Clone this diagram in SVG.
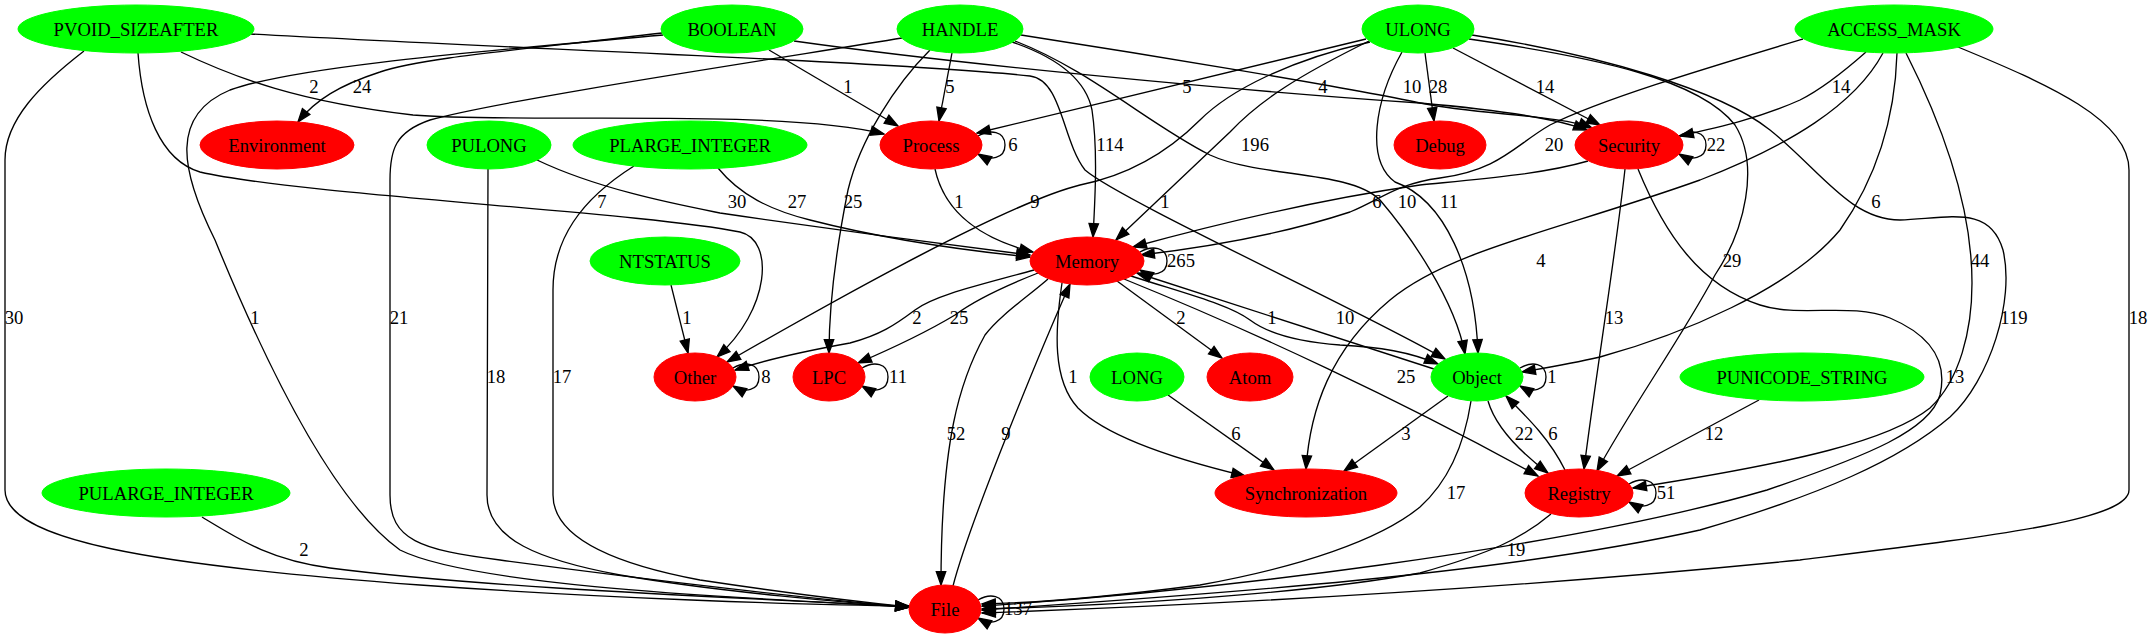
<svg xmlns="http://www.w3.org/2000/svg" width="2153" height="639" viewBox="0 0 2153 639">
<style>
.e{fill:none;stroke:#000;stroke-width:1.33;marker-end:url(#a)}
.t{font-family:"Liberation Serif","Times New Roman",serif;font-size:18.67px;text-anchor:middle;fill:#000}
.g ellipse{fill:#00ff00;stroke:#00ff00}
.r ellipse{fill:#ff0000;stroke:#ff0000}
</style>
<defs>
<marker id="a" viewBox="0 0 13.3 9.4" refX="13.3" refY="4.7" markerWidth="13.3" markerHeight="9.4" orient="auto" markerUnits="userSpaceOnUse" overflow="visible">
<path d="M0,0 L13.3,4.7 L0,9.4 z" fill="#000" stroke="#000" stroke-width="1.33"/>
</marker>
</defs>
<rect width="2153" height="639" fill="#fff"/>
<g id="edges">
<path class="e" d="M181,52 C235,78 300,102 413,115 C520,124 780,108 884,134"/>
<path class="e" d="M138,53 C142,110 160,160 200,172 C300,195 640,212 740,232 C775,240 770,310 717,357"/>
<path class="e" d="M84,51 C40,85 5,120 5,160 L5,490 C5,540 150,565 420,585 C600,598 800,605 909,606"/>
<path class="e" d="M251,34 C500,48 900,62 1030,76 C1062,80 1062,140 1085,170 C1120,200 1360,310 1445,359"/>
<path class="e" d="M662,33 C520,50 420,58 380,72 C340,85 315,100 298,122"/>
<path class="e" d="M769,50 L898,126"/>
<path class="e" d="M794,41 C1000,70 1300,95 1420,103 C1500,110 1555,118 1587,130"/>
<path class="e" d="M663,35 C500,50 300,65 230,90 C170,115 180,170 215,240 C260,350 330,500 400,550 C480,590 800,600 909,607"/>
<path class="e" d="M952,53 L939,121"/>
<path class="e" d="M930,50 C895,85 860,140 848,190 C838,240 829,300 829,353"/>
<path class="e" d="M1012,42 C1050,55 1085,75 1092,110 C1098,150 1095,200 1093,237"/>
<path class="e" d="M902,38 C800,55 500,100 430,120 C395,132 390,150 390,180 L390,495 C390,540 420,550 500,560 C650,580 820,600 909,607"/>
<path class="e" d="M1021,35 C1150,55 1350,88 1420,103 C1480,115 1560,115 1592,128"/>
<path class="e" d="M1015,41 C1090,70 1150,125 1210,155 C1260,178 1350,170 1380,200 C1410,235 1455,300 1465,354"/>
<path class="e" d="M1366,39 L977,133"/>
<path class="e" d="M1425,53 L1434,121"/>
<path class="e" d="M1453,48 L1600,125"/>
<path class="e" d="M1369,41 C1300,75 1260,100 1230,132 L1116,240"/>
<path class="e" d="M1370,42 C1290,60 1230,90 1200,120 C1170,150 1130,175 1080,185 C1000,205 800,320 727,362"/>
<path class="e" d="M1402,52 C1375,100 1365,160 1395,182 C1445,200 1475,270 1478,353"/>
<path class="e" d="M1469,39 C1600,58 1700,80 1735,125 C1760,165 1745,230 1715,275 C1680,340 1630,410 1597,471"/>
<path class="e" d="M1472,35 C1600,55 1720,90 1770,130 C1820,170 1850,220 1900,220 C1950,218 1990,205 2003,250 C2015,300 1990,380 1950,417 C1900,460 1820,495 1700,530 C1500,575 1200,595 982,610"/>
<path class="e" d="M1866,52 C1840,75 1820,90 1800,100 C1760,118 1720,127 1680,136"/>
<path class="e" d="M1803,39 C1700,70 1600,100 1550,125 C1515,145 1500,170 1440,178 C1395,184 1380,200 1350,212 C1280,235 1200,248 1141,255"/>
<path class="e" d="M1883,53 C1855,105 1790,145 1700,180 C1560,230 1450,250 1390,300 C1330,350 1310,410 1306,469"/>
<path class="e" d="M1897,53 C1895,120 1875,180 1840,230 C1790,290 1680,335 1600,357 C1570,364 1545,368 1522,372"/>
<path class="e" d="M1906,53 C1945,130 1972,210 1972,283 C1972,330 1960,380 1930,408 C1890,440 1800,462 1633,488"/>
<path class="e" d="M1958,47 C2050,85 2129,120 2129,170 L2129,490 C2129,520 2000,535 1800,560 C1500,590 1200,605 982,613"/>
<path class="e" d="M537,160 C600,190 680,205 720,213 C850,232 950,245 1030,255"/>
<path class="e" d="M488,169 L487,495 C487,540 540,560 620,575 C720,592 850,603 909,607"/>
<path class="e" d="M718,168 C740,195 770,210 810,220 C880,238 960,250 1030,257"/>
<path class="e" d="M634,166 C580,200 553,240 553,290 L553,495 C553,540 620,565 700,580 C800,595 870,603 909,607"/>
<path class="e" d="M935,169 C945,215 985,240 1033,252"/>
<path class="e" d="M1588,161 C1540,175 1470,180 1420,185 C1350,195 1250,215 1133,247"/>
<path class="e" d="M1625,169 C1615,260 1595,380 1584,469"/>
<path class="e" d="M1638,169 C1665,235 1700,285 1760,305 C1800,318 1850,302 1890,318 C1930,335 1948,360 1940,395 C1930,430 1870,455 1767,490 C1560,550 1200,592 982,606"/>
<path class="e" d="M671,285 L688,353"/>
<path class="e" d="M1034,270 C980,285 935,295 915,310 C895,325 880,335 850,343 C800,352 765,360 735,370"/>
<path class="e" d="M1038,273 C1000,288 975,300 955,315 C930,330 900,345 858,363"/>
<path class="e" d="M1117,281 L1222,358"/>
<path class="e" d="M1131,276 C1190,295 1230,305 1250,320 C1270,335 1300,342 1340,345 C1380,347 1410,352 1438,364"/>
<path class="e" d="M1434,369 L1137,273"/>
<path class="e" d="M1124,279 C1250,330 1400,400 1538,476"/>
<path class="e" d="M1062,283 C1055,330 1052,380 1078,408 C1105,435 1170,458 1245,476"/>
<path class="e" d="M1048,279 C1030,295 1000,315 985,335 C960,380 941,440 941,585"/>
<path class="e" d="M953,586 C970,520 1045,340 1070,284"/>
<path class="e" d="M1168,395 L1274,470"/>
<path class="e" d="M1448,396 L1344,471"/>
<path class="e" d="M1488,401 C1495,425 1515,448 1548,473"/>
<path class="e" d="M1471,401 C1465,440 1450,480 1420,507 C1380,540 1300,567 1200,585 C1100,598 1030,603 982,604"/>
<path class="e" d="M1565,470 C1550,440 1530,420 1506,396"/>
<path class="e" d="M1551,514 C1520,540 1490,553 1420,573 C1300,595 1100,606 982,609"/>
<path class="e" d="M1759,400 L1617,476"/>
<path class="e" d="M202,517 C240,540 270,560 330,568 C500,590 800,600 909,607"/>
<path class="e" d="M978,136 C990,129 1005,131 1005,145 C1005,159 990,161 978,154"/>
<path class="e" d="M1679,136 C1691,129 1706,131 1706,145 C1706,159 1691,161 1679,154"/>
<path class="e" d="M1140,252 C1152,245 1167,247 1167,261 C1167,275 1152,277 1140,270"/>
<path class="e" d="M733,368 C745,361 759,363 759,377 C759,391 745,393 733,386"/>
<path class="e" d="M862,368 C874,361 888,363 888,377 C888,391 874,393 862,386"/>
<path class="e" d="M1520,368 C1532,361 1546,363 1546,377 C1546,391 1532,393 1520,386"/>
<path class="e" d="M1629,484 C1641,477 1656,479 1656,493 C1656,507 1641,509 1629,502"/>
<path class="e" d="M978,600 C990,593 1004,595 1004,609 C1004,623 990,625 978,618"/>
<g class="t">
<text x="314" y="93">2</text><text x="362" y="93">24</text><text x="848" y="93">1</text><text x="950" y="93">5</text><text x="1187" y="93">5</text><text x="1323" y="93">4</text><text x="1412" y="93">10</text><text x="1438" y="93">28</text><text x="1545" y="93">14</text><text x="1841" y="93">14</text>
<text x="1013" y="151">6</text><text x="1110" y="151">114</text><text x="1255" y="151">196</text><text x="1554" y="151">20</text><text x="1716" y="151">22</text>
<text x="602" y="208">7</text><text x="737" y="208">30</text><text x="797" y="208">27</text><text x="853" y="208">25</text><text x="959" y="208">1</text><text x="1035" y="208">9</text><text x="1165" y="208">1</text><text x="1377" y="208">6</text><text x="1407" y="208">10</text><text x="1449" y="208">11</text><text x="1876" y="208">6</text>
<text x="1181" y="267">265</text><text x="1541" y="267">4</text><text x="1732" y="267">29</text><text x="1980" y="267">44</text>
<text x="14" y="324">30</text><text x="255" y="324">1</text><text x="399" y="324">21</text><text x="687" y="324">1</text><text x="917" y="324">2</text><text x="959" y="324">25</text><text x="1181" y="324">2</text><text x="1272" y="324">1</text><text x="1345" y="324">10</text><text x="1614" y="324">13</text><text x="2014" y="324">119</text><text x="2138" y="324">18</text>
<text x="496" y="383">18</text><text x="562" y="383">17</text><text x="766" y="383">8</text><text x="898" y="383">11</text><text x="1073" y="383">1</text><text x="1406" y="383">25</text><text x="1552" y="383">1</text><text x="1955" y="383">13</text>
<text x="956" y="440">52</text><text x="1006" y="440">9</text><text x="1236" y="440">6</text><text x="1406" y="440">3</text><text x="1524" y="440">22</text><text x="1553" y="440">6</text><text x="1714" y="440">12</text>
<text x="1456" y="499">17</text><text x="1666" y="499">51</text>
<text x="304" y="556">2</text><text x="1516" y="556">19</text>
<text x="1018" y="615">137</text>
</g>
</g>
<g id="n_PVOID_SIZEAFTER" class="g"><ellipse cx="136" cy="29" rx="118" ry="24"/><text class="t" x="136" y="35.5">PVOID_SIZEAFTER</text></g>
<g id="n_BOOLEAN" class="g"><ellipse cx="732" cy="29" rx="71" ry="24"/><text class="t" x="732" y="35.5">BOOLEAN</text></g>
<g id="n_HANDLE" class="g"><ellipse cx="960" cy="29" rx="63" ry="24"/><text class="t" x="960" y="35.5">HANDLE</text></g>
<g id="n_ULONG" class="g"><ellipse cx="1418" cy="29" rx="56" ry="24"/><text class="t" x="1418" y="35.5">ULONG</text></g>
<g id="n_ACCESS_MASK" class="g"><ellipse cx="1894" cy="29" rx="99" ry="24"/><text class="t" x="1894" y="35.5">ACCESS_MASK</text></g>
<g id="n_Environment" class="r"><ellipse cx="277" cy="145" rx="77" ry="24"/><text class="t" x="277" y="151.5">Environment</text></g>
<g id="n_PULONG" class="g"><ellipse cx="489" cy="145" rx="62" ry="24"/><text class="t" x="489" y="151.5">PULONG</text></g>
<g id="n_PLARGE_INTEGER" class="g"><ellipse cx="690" cy="145" rx="117" ry="24"/><text class="t" x="690" y="151.5">PLARGE_INTEGER</text></g>
<g id="n_Process" class="r"><ellipse cx="931" cy="145" rx="51" ry="24"/><text class="t" x="931" y="151.5">Process</text></g>
<g id="n_Debug" class="r"><ellipse cx="1440" cy="145" rx="46" ry="24"/><text class="t" x="1440" y="151.5">Debug</text></g>
<g id="n_Security" class="r"><ellipse cx="1629" cy="145" rx="54" ry="24"/><text class="t" x="1629" y="151.5">Security</text></g>
<g id="n_NTSTATUS" class="g"><ellipse cx="665" cy="261" rx="75" ry="24"/><text class="t" x="665" y="267.5">NTSTATUS</text></g>
<g id="n_Memory" class="r"><ellipse cx="1087" cy="261" rx="57" ry="24"/><text class="t" x="1087" y="267.5">Memory</text></g>
<g id="n_Other" class="r"><ellipse cx="695" cy="377" rx="41" ry="24"/><text class="t" x="695" y="383.5">Other</text></g>
<g id="n_LPC" class="r"><ellipse cx="829" cy="377" rx="36" ry="24"/><text class="t" x="829" y="383.5">LPC</text></g>
<g id="n_LONG" class="g"><ellipse cx="1137" cy="377" rx="47" ry="24"/><text class="t" x="1137" y="383.5">LONG</text></g>
<g id="n_Atom" class="r"><ellipse cx="1250" cy="377" rx="43" ry="24"/><text class="t" x="1250" y="383.5">Atom</text></g>
<g id="n_Object" class="g"><ellipse cx="1477" cy="377" rx="46" ry="24"/><text class="t" x="1477" y="383.5">Object</text></g>
<g id="n_PUNICODE_STRING" class="g"><ellipse cx="1802" cy="377" rx="122" ry="24"/><text class="t" x="1802" y="383.5">PUNICODE_STRING</text></g>
<g id="n_PULARGE_INTEGER" class="g"><ellipse cx="166" cy="493" rx="124" ry="24"/><text class="t" x="166" y="499.5">PULARGE_INTEGER</text></g>
<g id="n_Synchronization" class="r"><ellipse cx="1306" cy="493" rx="91" ry="24"/><text class="t" x="1306" y="499.5">Synchronization</text></g>
<g id="n_Registry" class="r"><ellipse cx="1579" cy="493" rx="54" ry="24"/><text class="t" x="1579" y="499.5">Registry</text></g>
<g id="n_File" class="r"><ellipse cx="945" cy="609" rx="36" ry="24"/><text class="t" x="945" y="615.5">File</text></g>
</svg>
